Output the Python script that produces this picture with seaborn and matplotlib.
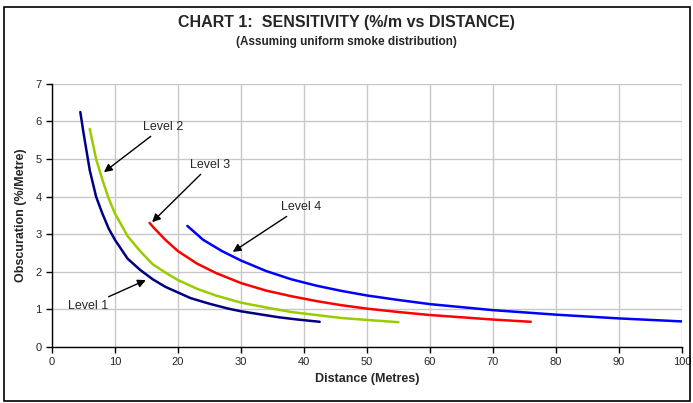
import matplotlib
matplotlib.use("Agg")
import matplotlib.pyplot as plt
import matplotlib.patches as mpatches
import pandas as pd
import seaborn as sns

# values
level1_x = [4.5, 5, 6, 7, 8, 9, 10, 12, 14, 16, 18, 20, 22, 25, 28, 30, 33, 36, 39, 42.5]
level1_y = [6.25, 5.7, 4.7, 4.0, 3.55, 3.15, 2.85, 2.35, 2.05, 1.8, 1.6, 1.45, 1.3, 1.15,
            1.02, 0.95, 0.87, 0.79, 0.73, 0.67]

level2_x = [6, 7, 8, 9, 10, 12, 14, 16, 18, 20, 23, 26, 30, 34, 38, 42, 46, 50, 55]
level2_y = [5.8, 5.0, 4.45, 3.95, 3.55, 2.95, 2.55, 2.2, 1.98, 1.78, 1.55, 1.37, 1.18,
            1.05, 0.93, 0.85, 0.77, 0.72, 0.66]

level3_x = [15.5, 16, 18, 20, 23, 26, 30, 34, 38, 42, 46, 50, 55, 60, 65, 70, 76]
level3_y = [3.3, 3.2, 2.85, 2.55, 2.22, 1.97, 1.7, 1.5, 1.35, 1.22, 1.11, 1.02, 0.93,
            0.85, 0.79, 0.73, 0.67]

level4_x = [21.5, 24, 27, 30, 34, 38, 42, 46, 50, 55, 60, 65, 70, 75, 80, 85, 90, 95, 100]
level4_y = [3.22, 2.85, 2.55, 2.3, 2.02, 1.8, 1.63, 1.49, 1.37, 1.25, 1.14, 1.06, 0.98,
            0.92, 0.86, 0.81, 0.76, 0.72, 0.68]

levels = ["Level 1", "Level 2", "Level 3", "Level 4"]
colors = ["#000080", "#99cc00", "#ff0000", "#0000ff"]

frames = []
for name, xs, ys in zip(levels, [level1_x, level2_x, level3_x, level4_x],
                        [level1_y, level2_y, level3_y, level4_y]):
    frames.append(pd.DataFrame({"distance": xs, "obscuration": ys, "level": name}))
df = pd.concat(frames, ignore_index=True)

sns.set_style("white")
plt.rcParams["font.family"] = ["Liberation Sans", "DejaVu Sans"]

fig = plt.figure(figsize=(6.93, 4.03), dpi=100)
ax = fig.add_axes([0.075, 0.139, 0.909, 0.653])

sns.lineplot(data=df, x="distance", y="obscuration", hue="level",
             palette=dict(zip(levels, colors)), linewidth=1.8,
             legend=False, sort=False, estimator=None, ax=ax)

ax.set_xlim(0, 100)
ax.set_ylim(0, 7)
ax.set_xticks(range(0, 101, 10))
ax.set_yticks(range(0, 8))
ax.grid(True, color="#c8c8c8", linewidth=1.0)
ax.set_axisbelow(True)
for side in ["top", "right"]:
    ax.spines[side].set_visible(False)
for side in ["left", "bottom"]:
    ax.spines[side].set_color("black")
    ax.spines[side].set_linewidth(1.0)
ax.tick_params(axis="both", direction="out", length=4, width=1, color="black",
               labelsize=8, bottom=True, left=True)

ax.set_xlabel("Distance (Metres)", fontsize=9, fontweight="bold", labelpad=4)
ax.set_ylabel("Obscuration (%/Metre)", fontsize=9, fontweight="bold", labelpad=6)

fig.text(0.5, 0.945, "CHART 1:  SENSITIVITY (%/m vs DISTANCE)", ha="center",
         va="center", fontsize=11.5, fontweight="bold")
fig.text(0.5, 0.897, "(Assuming uniform smoke distribution)", ha="center",
         va="center", fontsize=8.5, fontweight="bold")

arrow = dict(arrowstyle="-|>", color="black", lw=1.0, mutation_scale=12,
             shrinkA=0, shrinkB=0)
ax.annotate("Level 2", xy=(8.25, 4.65), xytext=(17.6, 5.85), fontsize=9,
            ha="center", va="center", arrowprops=arrow)
ax.annotate("Level 3", xy=(15.9, 3.32), xytext=(25.1, 4.84), fontsize=9,
            ha="center", va="center", arrowprops=arrow)
ax.annotate("Level 4", xy=(28.7, 2.53), xytext=(39.5, 3.72), fontsize=9,
            ha="center", va="center", arrowprops=arrow)
ax.annotate("Level 1", xy=(14.9, 1.78), xytext=(5.7, 1.09), fontsize=9,
            ha="center", va="center", arrowprops=arrow)

fig.patches.append(mpatches.Rectangle((0.006, 0.004), 0.99, 0.978,
                                      transform=fig.transFigure, fill=False,
                                      edgecolor="black", linewidth=1.2))

fig.savefig("out.png", dpi=100)
